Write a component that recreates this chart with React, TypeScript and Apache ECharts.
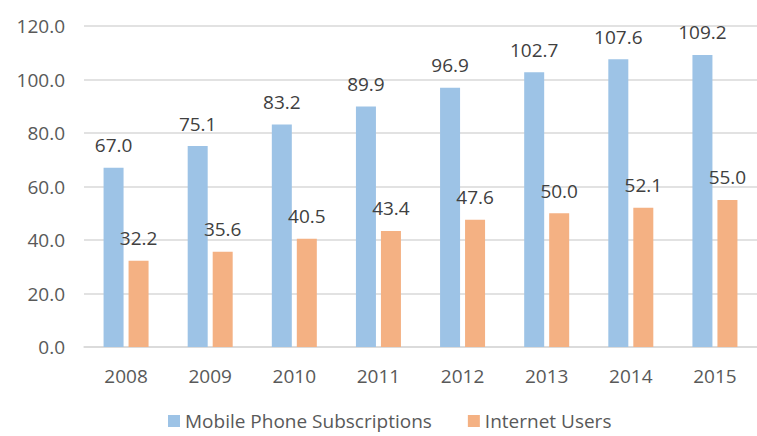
import React, { useEffect, useRef } from "react";
import * as echarts from "echarts";

const categories = ["2008", "2009", "2010", "2011", "2012", "2013", "2014", "2015"];
const mobileSubs = [67.0, 75.1, 83.2, 89.9, 96.9, 102.7, 107.6, 109.2];
const internetUsers = [32.2, 35.6, 40.5, 43.4, 47.6, 50.0, 52.1, 55.0];

const FONT = "'Open Sans', 'Liberation Sans', sans-serif";

export default function App() {
  const ref = useRef<HTMLDivElement>(null);
  useEffect(() => {
    if (!ref.current) return;
    const chart = echarts.init(ref.current, null, { renderer: "svg" });
    const labelCfg = {
      show: true,
      position: "top",
      distance: 13,
      color: "#404040",
      fontSize: 19,
      fontFamily: FONT,
      formatter: (p: any) => Number(p.value).toFixed(1),
    };
    chart.setOption({
      animation: false,
      backgroundColor: "#ffffff",
      grid: { left: 84, top: 26, width: 684, height: 321 },
      legend: {
        top: 405,
        left: 163,
        itemWidth: 12,
        itemHeight: 12,
        itemGap: 36,
        icon: "rect",
        textStyle: { color: "#595959", fontSize: 19, lineHeight: 22, fontFamily: FONT },
        data: ["Mobile Phone Subscriptions", "Internet Users"],
      },
      xAxis: {
        type: "category",
        data: categories,
        axisTick: { show: false },
        axisLine: { lineStyle: { color: "#d9d9d9", width: 1.5 } },
        axisLabel: { color: "#595959", fontSize: 19, fontFamily: FONT, margin: 19 },
      },
      yAxis: {
        type: "value",
        min: 0,
        max: 120,
        interval: 20,
        axisLine: { show: false },
        axisTick: { show: false },
        splitLine: { lineStyle: { color: "#d9d9d9", width: 1.5 } },
        axisLabel: {
          color: "#595959",
          fontSize: 19,
          fontFamily: FONT,
          margin: 19,
          formatter: (v: number) => v.toFixed(1),
        },
      },
      series: [
        {
          name: "Mobile Phone Subscriptions",
          type: "bar",
          data: mobileSubs,
          barWidth: 20,
          barGap: "25%",
          itemStyle: { color: "#9DC3E6" },
          label: labelCfg,
        },
        {
          name: "Internet Users",
          type: "bar",
          data: internetUsers,
          barWidth: 20,
          itemStyle: { color: "#F4B183" },
          label: labelCfg,
        },
      ],
    });
    return () => chart.dispose();
  }, []);
  return (
    <div
      ref={ref}
      style={{ position: "absolute", left: 0, top: 0, width: 757, height: 436 }}
    />
  );
}
